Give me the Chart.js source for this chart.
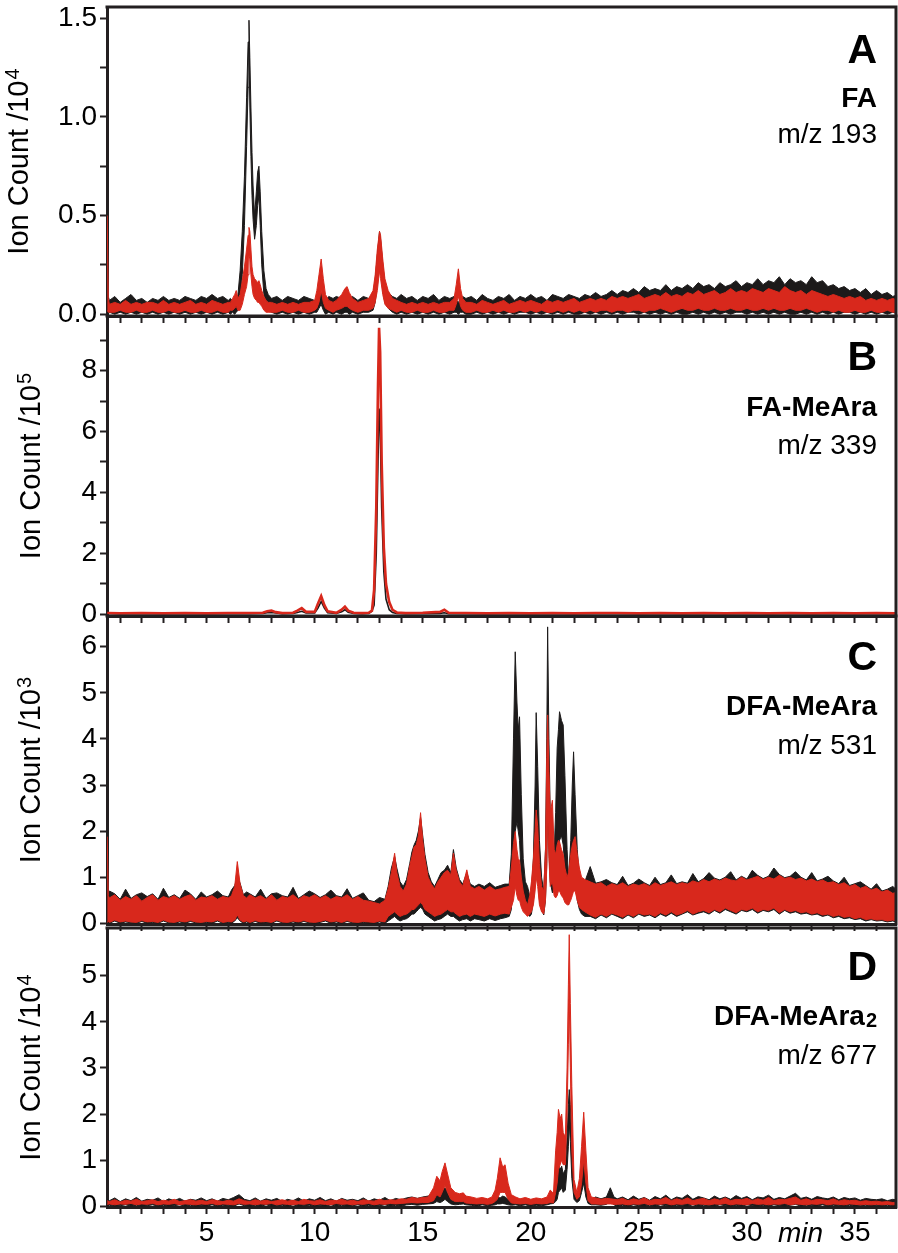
<!DOCTYPE html>
<html>
<head>
<meta charset="utf-8">
<script src="https://cdn.jsdelivr.net/npm/chart.js@4.4.1/dist/chart.umd.min.js"></script>
<style>
html, body { margin: 0; padding: 0; background: #fff; }
#wrap { position: relative; width: 898px; height: 1253px; overflow: hidden; }
canvas { position: absolute; left: 0; }
</style>
</head>
<body>
<div id="wrap">
  <canvas id="cA" width="898" height="332" style="top:0px"></canvas>
  <canvas id="cB" width="898" height="342" style="top:290px"></canvas>
  <canvas id="cC" width="898" height="350" style="top:590px"></canvas>
  <canvas id="cD" width="898" height="351" style="top:902px"></canvas>
</div>
<script>
// ---- panel A : FA, m/z 193 (x 10^4) ----
var tA = [0.4,0.45,0.5,0.75,1,1.25,1.5,1.75,2,2.25, 2.5,2.75,3,3.25,3.5,3.75,4,4.25,4.5,4.75, 5,5.25,5.5,5.75,6,
  6.1,6.2,6.3,6.37,6.45,6.55,6.65,6.75,6.85,6.92, 6.96,7,7.05,7.1,7.15,7.22,7.3,7.36,7.42,7.48, 7.55,7.65,7.75,7.85,8,
  8.25,8.5,8.75,9,9.25,9.5,9.75,10,10.1,10.2, 10.3,10.4,10.5,10.65,10.85,11,11.25,11.4,11.5,11.6,
  11.75,12,12.25,12.5,12.7,12.8,12.9,13,13.05,13.15, 13.25,13.4,13.6,13.8,14,14.25,14.5,14.75,15,15.25,
  15.5,15.75,16,16.25,16.45,16.55,16.65,16.75,16.85,17,
  17.25,17.5,17.75,18,18.25,18.5,18.75,19,19.25,19.5, 19.75,20,20.25,20.5,20.75,21,21.25,21.5,21.75,22,
  22.25,22.5,22.75,23,23.25,23.5,23.75,24,24.25,24.5, 24.75,25,25.25,25.5,25.75,26,26.25,26.5,26.75,27,
  27.25,27.5,27.75,28,28.25,28.5,28.75,29,29.25,29.5, 29.75,30,30.25,30.5,30.75,31,31.25,31.5,31.75,32,
  32.25,32.5,32.75,33,33.25,33.5,33.75,34,34.25,34.5, 34.75,35,35.25,35.5,35.75,36,36.25,36.5,36.75,37];
var aBlackHi = [.10,.09,.07,.09,.06,.08,.10,.07,.08,.06, .08,.07,.09,.07,.08,.07,.09,.08,.07,.09, .08,.10,.08,.09,.07,
  .08,.07,.08,.07,.10,.22,.42,.70,1.10,1.38, 1.49,1.30,1.05,.82,.65,.50,.62,.72,.75,.62, .42,.22,.13,.10,.08,
  .09,.07,.09,.08,.07,.09,.08,.07,.08,.10, .11,.09,.07,.09,.08,.09,.08,.10,.09,.08,
  .09,.07,.09,.08,.10,.17,.30,.42,.38,.25, .15,.11,.09,.08,.10,.08,.09,.07,.09,.08,
  .10,.07,.09,.08,.09,.07,.06,.08,.09,.08,
  .09,.07,.10,.08,.07,.09,.08,.10,.07,.09, .08,.10,.08,.09,.07,.10,.09,.08,.10,.09,
  .08,.10,.09,.11,.09,.10,.12,.10,.12,.11, .13,.11,.14,.12,.13,.12,.15,.12,.14,.13,
  .15,.13,.16,.14,.15,.13,.16,.14,.15,.17, .14,.16,.15,.18,.15,.17,.16,.19,.15,.18,
  .16,.17,.15,.19,.16,.17,.14,.15,.13,.14, .12,.13,.11,.13,.10,.12,.10,.11,.09,.10];
var aBlackLo = [0,0,.01,0,.01,0,.01,0,.01,0, .01,0,.01,0,.01,0,.01,0,.01,0, .01,0,.01,0,.01,
  0,.01,0,.01,.02,.05,.20,.45,.85,1.15, 1.35,1.05,.80,.60,.48,.38,.45,.55,.60,.45, .25,.10,.04,.02,.01,
  0,.01,0,.01,0,.01,0,.01,.01,.03, .05,.02,0,.01,0,.01,0,.01,.01,0,
  .01,0,.01,.01,.02,.06,.16,.28,.24,.12, .06,.03,.01,0,.01,0,.01,0,.01,0,
  .01,0,.01,0,.01,.01,0,.01,.01,0,
  0,.01,0,.01,0,.01,0,.01,0,.01, .01,0,.01,0,.01,0,.01,0,.01,0,
  0,.01,0,.01,0,.01,0,.01,0,.01, .01,0,.01,0,.01,0,.01,0,.01,0,
  0,.01,0,.01,0,.01,0,.01,0,.01, .01,0,.01,0,.01,0,.01,0,.01,0,
  0,.01,0,.01,0,.01,0,.01,0,.01, .01,0,.01,0,.01,0,.01,0,.01,0];
var aRedHi = [.50,.08,.05,.06,.05,.07,.05,.06,.05,.06, .06,.05,.07,.05,.06,.05,.06,.07,.05,.06, .05,.07,.06,.05,.06,
  .06,.08,.10,.12,.08,.10,.17,.24,.33,.40, .44,.42,.33,.24,.20,.18,.17,.16,.17,.15, .12,.09,.07,.06,.06,
  .05,.06,.05,.06,.05,.06,.06,.07,.12,.20, .28,.18,.10,.07,.06,.07,.10,.13,.14,.11,
  .08,.06,.07,.08,.12,.20,.33,.42,.40,.28, .18,.12,.08,.07,.06,.05,.06,.05,.06,.05,
  .06,.05,.06,.06,.08,.15,.23,.13,.08,.06,
  .06,.05,.07,.06,.05,.06,.07,.05,.06,.07, .06,.07,.06,.05,.07,.06,.07,.06,.07,.08,
  .06,.07,.08,.07,.08,.07,.09,.08,.09,.08, .09,.10,.08,.09,.10,.09,.11,.09,.10,.09,
  .11,.10,.12,.10,.11,.12,.10,.11,.13,.11, .12,.11,.13,.12,.11,.13,.12,.11,.14,.12,
  .11,.12,.10,.12,.11,.10,.09,.10,.09,.08, .09,.08,.09,.07,.08,.07,.08,.07,.08,.07];
var aRedLo = [.02,.01,.01,.01,.02,.01,.01,.02,.01,.01, .02,.01,.01,.02,.01,.01,.02,.01,.01,.02, .01,.01,.02,.01,.01,
  .02,.02,.03,.04,.02,.02,.05,.10,.14,.20, .30,.28,.20,.14,.10,.08,.07,.06,.06,.05, .04,.02,.01,.01,.01,
  .01,.02,.01,.01,.02,.01,.01,.02,.03,.06, .12,.06,.03,.02,.01,.02,.03,.04,.04,.03,
  .02,.01,.02,.02,.03,.06,.12,.22,.18,.10, .05,.03,.02,.01,.02,.01,.01,.02,.01,.01,
  .02,.01,.01,.02,.02,.05,.09,.04,.02,.01,
  .01,.02,.01,.01,.02,.01,.02,.01,.01,.02, .01,.02,.01,.02,.01,.01,.02,.01,.02,.01,
  .02,.01,.02,.01,.02,.02,.01,.02,.02,.01, .02,.02,.01,.02,.02,.03,.02,.01,.02,.03,
  .02,.02,.03,.02,.02,.03,.02,.02,.03,.02, .02,.03,.02,.02,.03,.02,.03,.02,.02,.03,
  .02,.02,.03,.02,.01,.02,.02,.01,.02,.01, .01,.02,.01,.01,.02,.01,.01,.02,.01,.01];

// ---- panel B : FA-MeAra, m/z 339 (x 10^5) ----
var tB = [0.4,1,2,3,4,5,6,7, 7.6,7.8,8,8.2,8.5, 9,9.2,9.4,9.6, 10,10.15,10.3,10.45,10.6, 11,11.25,11.4,11.55,11.8,
  12.2,12.5,12.65,12.75,12.85,12.93,12.98,13.03,13.1,13.2,13.3,13.45,13.6,13.8, 14.2,15,15.8,16,16.2,
  17,18,19,20,21,22,23,24,25,26,27,28,29,30,31,32,33,34,35,36,37];
var bBlack = [.03,.02,.03,.02,.03,.02,.03,.02, .03,.05,.06,.04,.02, .03,.06,.1,.04, .04,.2,.42,.2,.05, .03,.08,.15,.07,.03,
  .02,.03,.1,.3,2.0,5.0,6.75,6.2,3.5,1.4,.5,.15,.06,.03, .02,.02,.03,.05,.02,
  .02,.03,.02,.02,.03,.02,.02,.03,.02,.02,.03,.02,.02,.03,.02,.02,.03,.02,.02,.03,.02];
var bRed = [.04,.03,.04,.03,.04,.03,.04,.04, .05,.1,.12,.07,.04, .05,.12,.2,.08, .08,.35,.6,.3,.1, .05,.15,.25,.12,.05,
  .04,.05,.12,.8,3.5,7.5,9.4,8.6,5.0,2.2,1.0,.4,.15,.06, .04,.05,.08,.15,.05,
  .04,.03,.04,.03,.04,.03,.04,.04,.03,.04,.03,.04,.03,.04,.03,.04,.03,.04,.03,.04,.03];

// ---- panel C : DFA-MeAra, m/z 531 (x 10^3) ----
var tC = [0.4,0.45,0.5,0.75,1,1.25,1.5,1.75,2,2.25, 2.5,2.75,3,3.25,3.5,3.75,4,4.25,4.5,4.75, 5,5.25,5.5,5.75,6,
  6.15,6.3,6.42,6.55,6.7,6.85,7,
  7.25,7.5,7.75,8,8.25,8.5,8.75,9,9.25,9.5, 9.75,10,10.25,10.5,10.75,11,11.25,11.5,11.75,12, 12.25,12.5,12.75,13,13.25,
  13.4,13.55,13.7,13.8,13.95,14.1,14.25,14.4,14.5,14.6, 14.7,14.8,14.9,15,15.1,15.25,15.4,15.55,15.7,15.85,
  16,16.15,16.3,16.42,16.55,16.7,16.85,17.04,17.2,17.4, 17.6,17.85,18.1,18.35,18.6,18.8,
  19,19.1,19.2,19.28,19.36,19.42,19.48,19.56,19.65,19.75, 19.85,19.95,20.03,20.12,20.2,20.25,20.32,20.4,20.5,20.6,
  20.68,20.74,20.78,20.84,20.9,21,21.08,21.15,21.22,21.28, 21.33,21.42,21.5,21.58,21.68,21.75,21.85,21.92,21.98,22.05,
  22.15,22.25,22.35,22.5,
  22.75,23,23.25,23.5,23.75,24,24.25,24.5,24.75,25, 25.25,25.5,25.75,26,26.25,26.5,26.75,27,27.25,27.5,
  27.75,28,28.25,28.5,28.75,29,29.25,29.5,29.75,30, 30.25,30.5,30.75,31,31.25,31.5,31.75,32,32.25,32.5,
  32.75,33,33.25,33.5,33.75,34,34.25,34.5,34.75,35, 35.25,35.5,35.75,36,36.25,36.5,36.75,37];
var cBlackHi = [.90,.63,.70,.64,.52,.74,.54,.62,.66,.58, .64,.52,.76,.56,.62,.54,.72,.64,.52,.68, .57,.62,.70,.60,.57,
  .72,.82,1.0,.87,.62,.68,.64,
  .57,.74,.54,.64,.66,.60,.57,.78,.54,.62, .70,.64,.56,.62,.72,.60,.57,.75,.54,.60, .66,.50,.47,.56,.52,
  .80,1.2,1.45,1.2,.9,.8,.95,1.3,1.55,1.7, 1.8,2.0,2.3,1.9,1.5,1.1,.9,.8,.95,1.1,
  1.15,1.26,1.1,1.6,1.2,.95,.85,1.1,.85,.8, .85,.8,.88,.78,.82,.85,
  .85,1.5,4.0,5.89,4.8,4.2,4.48,2.8,1.4,.9, .8,.6,.7,1.4,3.0,4.57,3.4,1.8,1.0,.7,
  1.6,4.0,6.43,4.0,2.4,1.3,1.5,2.4,3.8,4.2, 4.59,4.4,4.3,3.2,1.6,.94,1.8,3.0,3.72,2.8,
  1.6,1.0,.8,.9,
  1.23,.87,.90,.95,.88,.84,1.02,.82,.87,.96, .88,.82,1.0,.84,.88,1.05,.86,.90,.87,1.08,
  .90,.97,1.1,.98,.94,1.0,1.12,.94,1.02,.96, 1.15,1.04,.97,1.02,1.2,1.06,.99,1.02,1.12,1.0,
  .94,1.1,.92,.96,1.02,.92,.86,1.0,.82,.86, .9,.82,.74,.86,.7,.74,.8,.7];
var cBlackLo = [0,.02,0,.05,0,.03,.01,0,.04,0, .02,0,.05,.01,0,.03,0,.04,.01,0, .02,0,.05,0,.02,
  0,.05,.12,.05,0,.03,0,
  .04,0,.02,0,.05,.01,0,.03,0,.04, .01,0,.02,.05,0,.03,0,.04,.01,0, .02,0,0,.03,0,
  .05,.10,.15,.1,.05,.08,.1,.15,.2,.2, .25,.3,.35,.3,.2,.15,.1,.05,.08,.1,
  .15,.2,.15,.15,.1,.05,.08,.1,.05,.1, .08,.05,.1,.06,.1,.12,
  .15,.3,1.0,2.0,2.2,2.0,1.8,1.0,.5,.3, .2,.15,.2,.5,1.0,1.6,1.1,.5,.3,.18,
  .5,1.3,2.6,1.6,.9,.66,.7,.9,1.3,1.6, 1.8,1.9,1.7,1.2,.6,.4,.7,1.1,1.5,1.0,
  .5,.3,.2,.15,
  .15,.1,.18,.12,.2,.15,.1,.18,.12,.2, .15,.18,.12,.2,.15,.22,.15,.2,.25,.18,
  .22,.25,.2,.28,.22,.3,.25,.2,.28,.25, .3,.22,.28,.25,.3,.2,.28,.22,.25,.2,
  .22,.18,.2,.15,.18,.12,.15,.1,.12,.08, .1,.05,.08,.05,.06,.03,.05,.02];
var cRedHi = [1.88,.60,.55,.62,.50,.58,.52,.60,.48,.56, .62,.50,.58,.54,.60,.52,.58,.62,.50,.57, .55,.60,.52,.58,.55,
  .60,.80,1.34,.85,.60,.55,.62,
  .55,.60,.52,.62,.50,.58,.55,.62,.52,.60, .56,.62,.54,.60,.52,.58,.55,.62,.52,.58, .50,.48,.45,.42,.50,
  .75,1.1,1.52,1.1,.8,.7,.85,1.25,1.45,1.66, 1.7,1.9,2.4,1.8,1.4,1.0,.85,.75,.9,1.0,
  1.1,1.15,1.05,1.52,1.15,.9,.8,1.16,.8,.75, .8,.72,.8,.72,.75,.78,
  .8,1.2,1.73,1.99,1.6,1.4,1.37,1.0,.7,.5, .4,.6,.9,1.4,2.0,2.46,2.1,1.3,.8,.7,
  1.6,3.6,4.52,3.3,2.4,2.67,1.6,1.5,1.7,1.8, 1.77,1.6,1.5,1.2,1.0,1.1,1.5,1.7,1.8,1.88,
  1.5,1.2,1.0,.95,
  .9,.85,.88,.8,.86,.82,.88,.8,.85,.82, .86,.8,.88,.82,.86,.9,.84,.88,.85,.92,
  .88,.95,.9,.96,.92,.98,.94,.92,1.0,.94, .98,1.02,.95,1.0,.96,1.04,.97,1.0,.95,.98,
  .92,.96,.9,.94,.88,.9,.84,.88,.8,.84, .76,.8,.72,.76,.68,.72,.65,.68];
var cRedLo = [.02,.04,.02,.07,.03,.05,.03,.02,.06,.03, .04,.02,.07,.03,.02,.05,.03,.06,.03,.02, .04,.03,.07,.02,.04,
  .03,.07,.18,.07,.03,.05,.02,
  .06,.03,.04,.02,.07,.03,.02,.05,.03,.06, .03,.02,.04,.07,.03,.05,.02,.06,.03,.02, .04,.03,.02,.05,.03,
  .15,.2,.25,.2,.15,.18,.2,.25,.3,.3, .35,.4,.45,.4,.3,.25,.2,.15,.18,.2,
  .25,.3,.25,.25,.2,.15,.18,.2,.15,.2, .18,.15,.2,.16,.2,.22,
  .2,.35,.5,.8,.6,.5,.5,.35,.25,.2, .15,.2,.25,.4,.7,1.0,.8,.4,.25,.2,
  .5,1.2,2.5,1.4,.8,.9,.6,.55,.6,.7, .7,.6,.55,.45,.4,.4,.5,.6,.7,.7,
  .5,.35,.3,.25,
  .18,.13,.2,.15,.22,.18,.13,.2,.15,.22, .18,.2,.15,.23,.18,.25,.18,.22,.28,.2,
  .25,.28,.23,.3,.25,.33,.28,.23,.3,.28, .33,.25,.3,.28,.33,.23,.3,.25,.28,.23,
  .25,.2,.23,.18,.2,.15,.18,.13,.15,.1, .13,.08,.1,.07,.08,.05,.07,.04];

// ---- panel D : DFA-MeAra2, m/z 677 (x 10^4) ----
var tD = [0.4,0.5,0.75,1,1.25,1.5,1.75,2,2.25,2.5, 2.75,3,3.25,3.5,3.75,4,4.25,4.5,4.75,5,
  5.25,5.5,5.75,6,6.25,6.5,6.75,7,7.25,7.5, 7.75,8,8.25,8.5,8.75,9,9.25,9.5,9.75,10,
  10.25,10.5,10.75,11,11.25,11.5,11.75,12,12.25,12.5, 12.75,13,13.25,13.5,13.75,14,14.25,14.5,14.75,
  15,15.25,15.5,15.65,15.8,15.9,16.03,16.15,16.3,16.5,16.7,16.88,17,
  17.25,17.5,17.75,18,18.2,
  18.35,18.45,18.58,18.7,18.81,18.95,19.1,19.3,
  19.5,19.75,20,20.25,20.5,20.75,20.9,21.05,
  21.15,21.22,21.28,21.36,21.43,21.5,21.6,21.68,21.74,21.78, 21.83,21.9,22,22.13,22.25,22.35,22.45,22.55,22.65,22.8,
  23,23.25,23.5,23.68,23.85,
  24,24.25,24.5,24.75,25,25.25,25.5,25.75,26,26.25, 26.5,26.75,27,27.25,27.5,27.75,28,28.25,28.5,28.75,
  29,29.25,29.5,29.75,30,30.25,30.5,30.75,31,31.25, 31.5,31.75,32,32.25,32.5,32.75,33,33.25,33.5,33.75,
  34,34.25,34.5,34.75,35,35.25,35.5,35.75,36,36.25, 36.5,36.75,37];
var dBlackHi = [.15,.12,.18,.10,.16,.12,.19,.11,.15,.13, .18,.10,.16,.12,.17,.11,.15,.13,.18,.12,
  .16,.11,.17,.14,.19,.25,.15,.12,.18,.11, .16,.13,.17,.10,.15,.12,.18,.11,.16,.13,
  .19,.12,.16,.11,.17,.13,.15,.12,.18,.11, .16,.13,.19,.12,.17,.14,.18,.2,.17,
  .2,.22,.25,.3,.28,.35,.4,.3,.2,.15,.18,.2,.15,
  .16,.12,.17,.14,.15,
  .18,.2,.18,.22,.2,.15,.12,.16,
  .13,.17,.12,.16,.13,.18,.2,.22,
  .35,.6,.87,.8,.87,.7,.8,1.5,2.2,2.53, 2.2,1.3,.35,.2,.4,.8,1.16,.6,.25,.15,
  .2,.16,.2,.4,.2,
  .16,.2,.14,.22,.15,.19,.13,.21,.16,.24, .14,.2,.17,.25,.15,.21,.18,.14,.22,.16,
  .2,.15,.23,.17,.21,.14,.2,.18,.24,.15, .19,.16,.22,.28,.17,.2,.15,.21,.18,.16,
  .2,.14,.19,.16,.18,.13,.17,.15,.14,.16, .12,.15,.13];
var dBlackLo = [0,.02,0,.01,.03,0,.02,0,.01,.03, 0,.02,0,.01,.03,0,.02,0,.01,0,
  .03,0,.02,.01,0,.05,.01,0,.02,0, .03,0,.01,.02,0,.03,0,.01,.02,0,
  .01,0,.03,0,.02,0,.01,.03,0,.02, 0,.01,.03,0,.02,0,.03,.04,.02,
  .04,.05,.06,.1,.08,.1,.15,.1,.05,.03,.04,.05,.03,
  .02,0,.03,.01,.02,
  .03,.05,.05,.06,.05,.03,.02,.03,
  .01,.03,0,.02,.01,.03,.05,.06,
  .1,.15,.3,.35,.4,.3,.35,.8,1.3,1.8, 1.4,.6,.15,.08,.12,.3,.5,.2,.06,.03,
  .03,.02,.04,.1,.03,
  0,.02,0,.03,.01,0,.02,0,.03,.01, 0,.02,.01,0,.03,0,.02,.01,0,.03,
  .01,0,.02,0,.03,.01,0,.02,0,.03, .01,0,.02,.04,0,.02,.01,0,.03,0,
  .02,.01,0,.02,0,.01,.02,0,.01,0, .02,0,.01];
var dRedHi = [.12,.10,.14,.09,.13,.11,.15,.10,.12,.14, .10,.13,.11,.15,.10,.12,.14,.11,.13,.10,
  .14,.12,.10,.13,.11,.16,.12,.10,.14,.11, .13,.10,.12,.14,.11,.13,.10,.15,.12,.11,
  .14,.10,.13,.12,.15,.11,.13,.10,.14,.12, .11,.15,.12,.14,.13,.16,.15,.19,.17,
  .19,.2,.4,.65,.55,.75,.94,.7,.4,.3,.27,.29,.22,
  .2,.17,.19,.16,.2,
  .35,.6,1.05,.85,.9,.5,.25,.2,
  .16,.19,.15,.18,.16,.2,.35,.28,
  1.2,1.6,2.1,1.9,2.0,1.6,1.5,3.0,4.8,5.89, 4.4,2.6,.58,.3,.6,1.3,2.04,1.2,.4,.2,
  .18,.15,.17,.16,.15,
  .14,.17,.12,.16,.13,.18,.12,.15,.14,.19, .12,.16,.13,.18,.12,.15,.17,.12,.16,.13,
  .18,.12,.15,.14,.17,.12,.16,.13,.19,.12, .15,.14,.17,.2,.13,.16,.12,.15,.14,.12,
  .16,.11,.14,.12,.13,.1,.12,.1,.11,.09, .1,.08,.09];
var dRedLo = [.04,.05,.03,.05,.04,.06,.03,.05,.04,.06, .03,.05,.04,.06,.03,.05,.04,.03,.05,.04,
  .06,.03,.05,.04,.03,.06,.04,.05,.03,.05, .04,.06,.03,.05,.04,.03,.05,.04,.06,.03,
  .05,.04,.03,.06,.04,.05,.03,.05,.04,.06, .03,.05,.04,.06,.05,.06,.07,.08,.07,
  .08,.08,.12,.25,.2,.3,.45,.3,.15,.1,.1,.1,.07,
  .06,.05,.06,.04,.06,
  .1,.15,.3,.3,.3,.15,.07,.06,
  .05,.06,.04,.06,.05,.06,.08,.07,
  .3,.5,.8,.9,1.0,.9,.9,2.0,3.5,4.5, 3.0,1.2,.3,.15,.2,.5,1.0,.5,.12,.05,
  .05,.04,.05,.05,.04,
  .04,.05,.03,.05,.04,.06,.03,.05,.04,.06, .03,.05,.04,.06,.03,.05,.04,.03,.05,.04,
  .06,.03,.05,.04,.03,.06,.04,.05,.03,.05, .04,.06,.03,.05,.04,.03,.05,.04,.06,.03,
  .05,.04,.03,.05,.04,.03,.04,.03,.04,.03, .04,.03,.04];

var BLACK = '#1c1a1a';
var RED = '#d8281c';
var AXIS = '#231f20';
var FONT = "'Liberation Sans', Arial, Helvetica, sans-serif";

function pts(t, v) {
  return t.map(function(x, i) { return { x: x, y: v[i] }; });
}

// black band drawn first, red band on top
function bandSets(t, bHi, bLo, rHi, rLo) {
  return [
    { data: pts(t, bLo), borderColor: BLACK, borderWidth: 1, fill: false, order: 2 },
    { data: pts(t, bHi), borderColor: BLACK, borderWidth: 1, backgroundColor: BLACK, fill: 0, order: 2 },
    { data: pts(t, rLo), borderColor: RED, borderWidth: 1, fill: false, order: 1 },
    { data: pts(t, rHi), borderColor: RED, borderWidth: 1, backgroundColor: RED, fill: 2, order: 1 }
  ];
}

function lineSets(t, black, red) {
  return [
    { data: pts(t, black), borderColor: BLACK, borderWidth: 1.6, fill: false, order: 2 },
    { data: pts(t, red), borderColor: RED, borderWidth: 2.6, fill: false, order: 1 }
  ];
}

var framePlugin = {
  id: 'frame',
  afterDraw: function(chart) {
    var a = chart.chartArea, ctx = chart.ctx;
    ctx.save();
    ctx.strokeStyle = AXIS;
    ctx.lineWidth = 3;
    ctx.beginPath();
    ctx.moveTo(a.left - 1.5, a.top);
    ctx.lineTo(a.right, a.top);
    ctx.lineTo(a.right, a.bottom + 1.5);
    ctx.stroke();
    ctx.restore();
  }
};

var textPlugin = {
  id: 'panelText',
  afterDraw: function(chart, args, o) {
    var ctx = chart.ctx, x = 877, off = o.offset;
    ctx.save();
    ctx.fillStyle = '#000';
    ctx.textAlign = 'right';
    ctx.textBaseline = 'alphabetic';
    ctx.font = 'bold 41px ' + FONT;
    ctx.fillText(o.letter, x, o.ys[0] - off);
    if (o.sub) {
      ctx.font = 'bold 20px ' + FONT;
      var w = ctx.measureText(o.sub).width;
      ctx.fillText(o.sub, x, o.ys[1] + 2 - off);
      ctx.font = 'bold 28px ' + FONT;
      ctx.fillText(o.name, x - w - 1, o.ys[1] - off);
    } else {
      ctx.font = 'bold 28px ' + FONT;
      ctx.fillText(o.name, x, o.ys[1] - off);
    }
    ctx.font = '28px ' + FONT;
    ctx.fillText(o.mz, x, o.ys[2] - off);
    if (o.unit) {
      ctx.font = 'italic 28px ' + FONT;
      ctx.textAlign = 'left';
      ctx.fillText(o.unit, 778, 1242 - off);
    }
    // y axis title with superscript exponent
    var a = chart.chartArea;
    ctx.translate(o.titleX, (a.top + a.bottom) / 2);
    ctx.rotate(-Math.PI / 2);
    ctx.textAlign = 'left';
    var main = 'Ion Count /10';
    ctx.font = '29px ' + FONT;
    var w1 = ctx.measureText(main).width;
    ctx.font = '20px ' + FONT;
    var w2 = ctx.measureText(o.exp).width;
    var start = -(w1 + w2 + 1) / 2;
    ctx.font = '29px ' + FONT;
    ctx.fillText(main, start, 0);
    ctx.font = '20px ' + FONT;
    ctx.fillText(o.exp, start + w1 + 1, -9);
    ctx.restore();
  }
};

function makePanel(id, p) {
  var canvas = document.getElementById(id);
  return new Chart(canvas, {
    type: 'line',
    data: { datasets: p.sets },
    options: {
      responsive: false,
      animation: false,
      events: [],
      layout: { padding: { top: p.padTop, right: 2, bottom: 0, left: 0 } },
      elements: { point: { radius: 0 }, line: { tension: 0 } },
      plugins: {
        legend: { display: false },
        tooltip: { enabled: false },
        panelText: p.text
      },
      scales: {
        x: {
          type: 'linear', min: 0.39, max: 36.9,
          afterFit: function(s) { s.height = p.xh; s.paddingLeft = 0; s.paddingRight = 0; },
          border: { color: AXIS, width: 3 },
          grid: { drawOnChartArea: false, tickLength: 7, tickWidth: 2, tickColor: AXIS },
          ticks: {
            display: p.showX, stepSize: 1, autoSkip: false, maxRotation: 0, includeBounds: false,
            padding: 2, color: '#000', font: { size: 28, family: FONT },
            callback: function(v) { return v % 5 === 0 ? String(v) : ''; }
          }
        },
        y: {
          min: p.ymin, max: p.ymax,
          afterFit: function(s) { s.width = 107; s.paddingTop = 0; s.paddingBottom = 0; },
          afterBuildTicks: function(s) {
            s.ticks = s.ticks.filter(function(t) { return t.value <= p.ytop; });
          },
          border: { color: AXIS, width: 3 },
          grid: { drawOnChartArea: false, tickLength: 7, tickWidth: 2, tickColor: AXIS },
          ticks: {
            stepSize: p.ystep, includeBounds: false, autoSkip: false, padding: 3,
            color: '#000', font: { size: 28, family: FONT },
            callback: p.ylab
          }
        }
      }
    },
    plugins: [framePlugin, textPlugin]
  });
}

makePanel('cA', {
  sets: bandSets(tA, aBlackHi, aBlackLo, aRedHi, aRedLo),
  padTop: 7, xh: 16, showX: false,
  ymin: -0.009, ymax: 1.557, ystep: 0.25, ytop: 1.5,
  ylab: function(v) { return Math.abs(v * 2 - Math.round(v * 2)) < 1e-6 ? v.toFixed(1) : ''; },
  text: { offset: 0, letter: 'A', name: 'FA', mz: 'm/z 193', ys: [63, 107, 143], exp: '4', titleX: 28 }
});

makePanel('cB', {
  sets: lineSets(tB, bBlack, bRed),
  padTop: 26, xh: 16, showX: false,
  ymin: -0.056, ymax: 9.79, ystep: 1, ytop: 9,
  ylab: function(v) { return v % 2 === 0 ? String(v) : ''; },
  text: { offset: 290, letter: 'B', name: 'FA-MeAra', mz: 'm/z 339', ys: [370, 416, 454], exp: '5', titleX: 40 }
});

makePanel('cC', {
  sets: bandSets(tC, cBlackHi, cBlackLo, cRedHi, cRedLo),
  padTop: 26, xh: 16, showX: false,
  ymin: -0.015, ymax: 6.666, ystep: 1, ytop: 6,
  ylab: function(v) { return String(v); },
  text: { offset: 590, letter: 'C', name: 'DFA-MeAra', mz: 'm/z 531', ys: [670, 715, 754], exp: '3', titleX: 40 }
});

makePanel('cD', {
  sets: bandSets(tD, dBlackHi, dBlackLo, dRedHi, dRedLo),
  padTop: 26, xh: 46, showX: true,
  ymin: -0.017, ymax: 6.035, ystep: 1, ytop: 5,
  ylab: function(v) { return String(v); },
  text: { offset: 902, letter: 'D', name: 'DFA-MeAra', sub: '2', mz: 'm/z 677', ys: [980, 1025, 1064], exp: '4', titleX: 40, unit: 'min' }
});

// sanity check on hand-entered series lengths
[['A', tA, [aBlackHi, aBlackLo, aRedHi, aRedLo]], ['B', tB, [bBlack, bRed]],
 ['C', tC, [cBlackHi, cBlackLo, cRedHi, cRedLo]], ['D', tD, [dBlackHi, dBlackLo, dRedHi, dRedLo]]]
  .forEach(function(c) {
    c[2].forEach(function(arr, i) {
      if (arr.length !== c[1].length) throw new Error('panel ' + c[0] + ' series ' + i + ': ' + arr.length + ' vs ' + c[1].length);
    });
  });
</script>
</body>
</html>
